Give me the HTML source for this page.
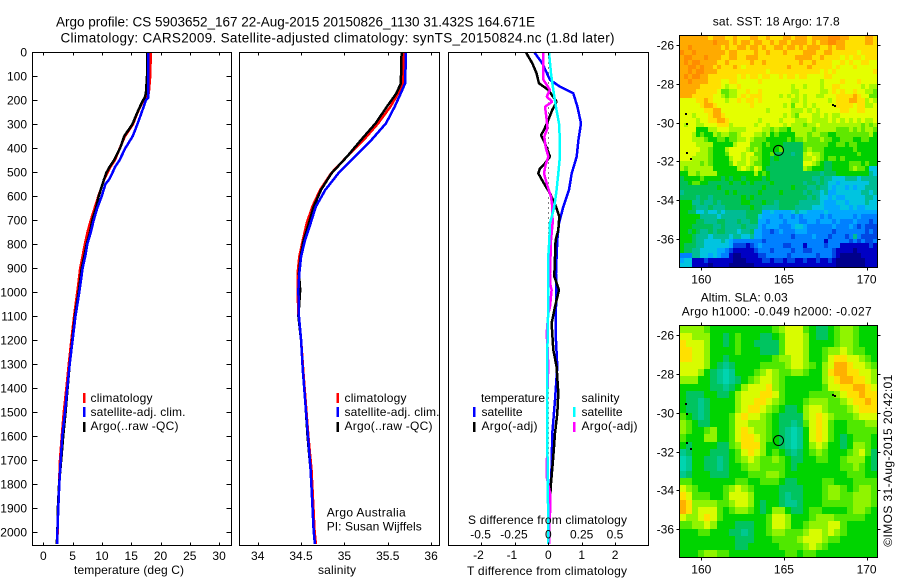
<!DOCTYPE html>
<html lang="en">
<head>
<meta charset="utf-8">
<title>Argo profile CS 5903652_167</title>
<style>
html,body{margin:0;padding:0;background:#fff;}
svg{display:block;position:absolute;left:0;top:0;}
text{font-family:"Liberation Sans",sans-serif;font-size:12px;fill:#000;}
.ttl{font-size:13.5px;}
</style>
</head>
<body>
<svg id="fig" xmlns="http://www.w3.org/2000/svg" width="900" height="580" viewBox="0 0 900 580">
<rect width="900" height="580" fill="#fff"/>
<text class="ttl" x="56" y="26.5" textLength="479">Argo profile: CS 5903652_167 22-Aug-2015 20150826_1130 31.432S 164.671E</text>
<text class="ttl" x="60.5" y="42.5" textLength="554">Climatology: CARS2009. Satellite-adjusted climatology: synTS_20150824.nc (1.8d later)</text>
<g id="plots"></g>
<text x="74" y="574" textLength="110">temperature (deg C)</text>
<text x="318" y="574" textLength="38">salinity</text>
<text x="467" y="575" textLength="160">T difference from climatology</text>
<text x="468" y="524" textLength="159">S difference from climatology</text>

<g>
<rect x="83" y="393" width="2.5" height="10" fill="#f00"/>
<rect x="83" y="407" width="2.5" height="10" fill="#00f"/>
<rect x="83" y="422" width="2.5" height="10" fill="#000"/>
<text x="90.5" y="402" textLength="62">climatology</text>
<text x="90.5" y="416" textLength="95">satellite-adj. clim.</text>
<text x="90.5" y="430" textLength="88">Argo(..raw -QC)</text>
</g>
<g>
<rect x="336.5" y="393" width="2.5" height="10" fill="#f00"/>
<rect x="336.5" y="407" width="2.5" height="10" fill="#00f"/>
<rect x="336.5" y="422" width="2.5" height="10" fill="#000"/>
<text x="344.5" y="402" textLength="62">climatology</text>
<text x="344.5" y="416" textLength="95">satellite-adj. clim.</text>
<text x="344.5" y="430" textLength="88">Argo(..raw -QC)</text>
<text x="326.7" y="516.7" textLength="79">Argo Australia</text>
<text x="326.7" y="530.7" textLength="95">PI: Susan Wijffels</text>
</g>
<g>
<text x="481" y="402" textLength="64">temperature</text>
<text x="481.5" y="416" textLength="41">satellite</text>
<text x="481.5" y="430" textLength="56">Argo(-adj)</text>
<text x="581.5" y="402" textLength="38">salinity</text>
<text x="581.5" y="416" textLength="41">satellite</text>
<text x="581.5" y="430" textLength="56">Argo(-adj)</text>
<rect x="473" y="407" width="2.5" height="10" fill="#00f"/>
<rect x="473" y="422" width="2.5" height="10" fill="#000"/>
<rect x="573" y="407" width="2.5" height="10" fill="#0ff"/>
<rect x="573" y="422" width="2.5" height="10" fill="#f0f"/>
</g>

<text x="712.7" y="25.7" textLength="127">sat. SST: 18 Argo: 17.8</text>
<text x="700.7" y="301.7" textLength="87">Altim. SLA: 0.03</text>
<text x="681.7" y="315.7" textLength="190">Argo h1000: -0.049 h2000: -0.027</text>
<text transform="translate(892 546.7) rotate(-90)" textLength="172">©IMOS 31-Aug-2015 20:42:01</text>
</svg>
<script>
// ---- profile data ----
const depthTicks = [0,100,200,300,400,500,600,700,800,900,1000,1100,1200,1300,1400,1500,1600,1700,1800,1900,2000];
const tempTicks = [0,5,10,15,20,25,30];
const salTicks = [34,34.5,35,35.5,36];
const tDiffTicks = [-2,-1,0,1,2];
const sDiffTicks = [-0.5,-0.25,0,0.25,0.5];
const lonTicks = [160,165,170];
const latTicks = [-26,-28,-30,-32,-34,-36];

const tempDepths = [0,100,170,190,200,250,300,350,400,450,480,500,530,550,600,650,700,750,800,850,900,950,1000,1100,1200,1300,1400,1500,1600,1700,1800,1900,2000,2050];
const climTemp = [18.35,18.25,18.0,17.7,17.1,16.1,15.3,13.95,13.05,12.2,11.4,11,10.4,10.1,9.4,8.75,8.1,7.55,7.1,6.7,6.3,6.05,5.8,5.25,4.8,4.35,3.95,3.5,3.15,2.85,2.7,2.5,2.45,2.3];
const argoTemp = [17.7,17.7,17.5,17.3,17,16.05,15.2,13.8,13.1,12.07,11.26,10.8,10.35,10.1,9.45,9,8.36,7.97,7.4,7.0,6.55,6.3,6.04,5.4,4.95,4.5,4.15,3.8,3.4,3.05,2.7,2.5,2.4,2.3];
const satTemp = [17.9,17.9,17.9,17.9,17.5,16.8,16.05,15.25,14.0,13.0,12.2,11.85,11.25,10.6,9.97,9.2,8.6,8.1,7.5,7.17,6.7,6.43,6.15,5.5,5.0,4.5,4.1,3.7,3.25,2.97,2.73,2.56,2.4,2.35];

const salDepths = [0,130,171,227,296,366,435,505,574,644,713,783,852,922,991,1100,1200,1325,1464,1603,1742,1880,1992,2050];
const climSal = [35.69,35.67,35.62,35.53,35.39,35.22,35.03,34.845,34.72,34.63,34.565,34.52,34.48,34.46,34.46,34.47,34.5,34.525,34.555,34.585,34.62,34.64,34.655,34.67];
const argoSal = [35.66,35.65,35.6,35.49,35.36,35.19,35.03,34.85,34.73,34.645,34.59,34.53,34.495,34.475,34.49,34.47,34.5,34.52,34.55,34.575,34.61,34.63,34.645,34.66];
const satSal = [35.71,35.70,35.65,35.58,35.48,35.31,35.12,34.93,34.78,34.67,34.61,34.545,34.5,34.48,34.47,34.475,34.5,34.52,34.55,34.58,34.61,34.63,34.645,34.66];

const satDiffDepths = [0,46,115,143,171,227,296,366,435,505,574,644,713,783,852,922,1061,1172,1311,1450,1589,1728,1867,1992,2050];
const satTDiff = [-0.42,-0.18,0.05,0.35,0.75,0.87,0.98,0.9,0.85,0.7,0.62,0.45,0.32,0.27,0.25,0.23,0.23,0.22,0.27,0.2,0.12,0.1,0.05,0.03,0.02];
const argoTDepths = [0,46,88,129,157,206,240,282,324,345,380,435,463,484,505,547,588,644,685,741,783,852,935,991,1061,1130,1241,1311,1422,1506,1589,1686,1797,1992,2050];
const argoTDiff = [-0.67,-0.48,-0.35,-0.28,0,0.25,0.12,0,-0.13,-0.22,-0.1,0.05,-0.1,-0.25,-0.3,-0.13,0.05,0.23,0.33,0.3,0.22,0.2,0.18,0.32,0.2,0.1,0.15,0.25,0.3,0.27,0.2,0.15,0.08,0,0];
const argoSDepths = [0,115,157,185,206,227,282,317,352,394,435,470,505,547,602,644,713,783,922,963,991,1061,1089,1172,1241,1311,1450,1589,1770,1839,1922,1992,2050];
const argoSDiff = [-0.037,-0.037,0.0125,-0.012,0.03,-0.025,-0.012,-0.007,-0.03,-0.02,0,-0.02,-0.032,-0.012,0.02,0.03,0.032,0.02,0.0125,0.0125,0.025,0.0125,0,-0.012,-0.005,0,-0.01,-0.007,-0.012,0.0125,0.0125,0.005,0.005];
const satSDepths = [0,88,157,227,296,366,435,505,574,644,713,783,852,922,1061,1172,1450,1728,1992,2050];
const satSDiff = [0.005,0.02,0.0375,0.057,0.08,0.087,0.087,0.075,0.062,0.045,0.0125,0.0075,0,0,0,-0.005,-0.01,-0.005,0,0];

// ---- map data: colour-scale level per cell, north to south ----
const sstColors = ["#00008c","#0000c4","#0048e4","#0080ff","#00a8ff","#00c4e0","#00bc94","#00c058","#00d000","#60e800","#a8f800","#e4ff00","#ffe000","#ffaa00","#ff8c00"];
const slaColors = ["#00008c","#0000c4","#0048e4","#0080ff","#00a8ff","#00d4b0","#00c890","#00c460","#00d400","#50e800","#90f400","#d8fc00","#ffe000","#ffb000","#ff8c00"];
const landLons = [159,159.05,159.1,159.3,167.9,168];
const landLats = [-29.5,-30,-31.5,-31.8,-29.05,-29.1];
const argoLon = 164.671;
const argoLat = -31.432;
const sstGrid = [
[13,13,13,13,13,13,13,12,13,13,13,12,12,13,12,12,12,13,13,12,12,13,12,12,12,13,13,12,13,13,13,12,13,13,13,13,14,14,14,13,13,12,12,12,12,13,13,12],
[13,13,13,13,13,13,13,13,14,13,13,13,12,13,12,13,13,12,13,13,12,12,13,12,13,13,12,13,13,13,13,12,13,12,13,13,14,14,13,13,12,12,12,12,12,13,13,12],
[13,13,14,13,13,13,13,13,13,13,12,13,12,12,13,13,12,13,13,12,13,12,12,13,13,12,13,13,12,13,12,13,13,13,12,12,13,12,13,13,12,12,12,12,12,12,12,12],
[14,13,13,14,13,13,13,13,13,13,13,12,13,13,12,12,12,12,13,12,12,13,12,12,12,13,12,12,12,12,13,13,13,12,12,13,13,12,12,12,12,12,12,11,12,12,12,12],
[13,14,14,13,13,13,14,13,13,13,12,12,13,13,12,12,13,13,13,12,12,12,12,12,12,12,12,12,13,13,13,13,12,12,13,12,12,12,12,11,12,11,12,12,11,12,12,12],
[13,14,13,14,14,13,13,13,13,12,12,13,12,12,12,12,12,13,12,12,13,12,12,12,12,12,12,12,12,13,12,12,13,12,12,12,12,11,11,12,11,12,11,11,12,12,11,11],
[13,13,14,14,13,14,13,13,12,13,12,12,12,13,12,11,12,12,12,12,12,12,12,12,12,12,13,12,12,12,12,13,12,12,12,12,12,11,12,11,11,11,12,11,11,11,11,11],
[13,13,14,13,14,14,13,13,13,12,12,12,12,12,12,12,12,12,12,12,12,11,12,12,12,12,12,12,12,12,12,12,12,12,11,12,11,12,11,11,11,11,11,11,11,11,11,12],
[13,14,13,14,14,13,13,12,12,12,12,12,12,12,11,12,11,12,12,11,12,12,11,11,12,11,12,12,11,12,12,11,11,11,11,12,12,11,11,11,11,11,11,11,11,11,11,11],
[13,13,14,13,13,13,13,12,12,12,11,11,12,12,11,11,11,11,11,12,11,11,11,11,11,11,11,11,11,11,11,11,11,11,10,11,11,11,11,12,11,11,11,12,11,11,11,11],
[13,13,13,13,13,12,12,12,12,12,11,10,11,11,12,11,11,11,11,11,11,11,11,11,11,11,11,10,11,11,10,11,11,11,10,11,11,12,12,11,11,11,11,11,10,11,10,10],
[13,13,13,13,12,12,12,12,12,11,9,9,10,10,11,11,12,11,11,12,11,11,11,11,11,11,11,10,10,11,11,11,11,11,10,10,11,12,11,12,11,11,12,11,11,10,10,9],
[13,13,13,12,12,12,12,12,11,11,10,9,10,10,11,12,11,12,12,12,11,11,11,11,10,11,10,11,10,11,10,11,11,10,10,11,11,11,12,12,12,12,13,12,11,11,9,9],
[11,11,11,11,12,12,13,12,11,11,11,10,11,11,12,11,12,12,11,12,11,11,11,11,11,11,11,10,10,11,10,11,11,11,11,11,10,11,12,12,12,13,13,12,12,10,11,10],
[11,11,11,11,11,12,13,13,12,11,11,11,11,11,11,11,11,12,11,11,11,11,11,11,11,10,11,9,11,11,10,11,10,11,11,11,11,11,12,12,12,12,11,12,12,10,10,11],
[11,11,11,11,11,11,12,12,13,13,11,11,11,11,11,11,11,11,11,11,11,10,11,11,11,11,11,10,10,10,11,10,11,10,11,11,11,11,11,12,12,11,11,12,12,11,11,11],
[11,11,11,10,11,11,11,12,13,13,12,11,11,11,11,11,11,11,11,11,11,11,11,11,11,10,11,10,9,11,11,11,10,10,11,10,11,10,10,11,11,11,11,11,11,11,11,11],
[11,11,11,11,10,11,11,12,12,13,13,12,11,11,11,11,11,11,11,10,11,11,11,11,10,11,11,11,10,10,10,11,10,10,10,10,11,10,11,10,11,10,11,10,11,10,10,11],
[11,10,11,11,10,10,11,11,11,12,12,12,10,11,11,11,11,11,10,11,11,10,11,11,11,10,11,10,10,10,9,10,10,11,10,10,10,10,10,10,10,10,10,10,9,10,9,10],
[11,11,11,11,8,8,8,10,10,11,11,11,10,10,10,10,11,11,11,11,10,10,9,10,9,9,8,10,10,10,10,10,9,10,10,10,10,10,9,9,9,10,9,10,9,10,10,9],
[11,11,11,10,8,9,8,8,10,9,10,10,9,9,10,11,11,11,10,10,9,10,8,9,8,8,8,8,10,10,10,9,10,10,9,9,8,8,9,9,9,9,9,9,9,9,10,8],
[11,11,11,10,10,10,9,8,8,9,9,8,9,9,10,10,11,10,9,9,9,8,8,8,8,8,9,8,9,9,10,9,9,9,10,9,9,8,8,9,9,9,8,8,9,9,8,8],
[11,11,11,11,10,10,10,10,8,8,8,8,8,10,11,11,11,9,9,9,8,9,8,8,8,7,7,7,7,7,9,9,9,9,9,9,8,8,9,9,8,9,9,8,8,8,8,8],
[11,11,11,11,11,10,10,9,8,8,8,10,11,11,11,11,10,9,10,9,8,8,8,8,9,7,7,7,7,7,9,10,9,9,9,8,8,8,8,8,8,8,9,8,8,8,8,8],
[11,11,11,11,10,10,10,9,8,8,8,9,11,11,11,10,11,11,9,9,8,8,9,7,7,7,7,6,7,7,10,11,10,10,9,8,8,8,8,8,8,8,8,9,8,8,8,8],
[11,11,11,10,10,10,10,9,8,8,8,8,10,11,11,10,11,10,10,9,8,8,7,8,7,7,7,7,7,7,10,10,11,10,9,8,9,9,8,9,8,8,8,8,8,8,8,8],
[10,10,10,10,10,9,10,9,8,8,8,8,9,11,10,10,11,10,9,9,8,8,7,7,7,7,7,7,7,7,11,11,10,9,8,7,7,8,8,8,8,9,9,9,8,9,8,8],
[10,9,10,10,10,10,10,10,8,8,8,8,8,8,10,11,10,9,11,10,8,7,7,7,7,7,7,7,7,7,10,9,8,8,8,7,7,8,8,8,8,9,10,9,9,8,5,5],
[8,8,10,10,9,10,10,10,10,8,8,8,8,8,8,8,8,8,10,8,9,8,7,7,7,7,7,7,7,7,7,7,7,7,6,7,7,7,8,8,8,8,8,8,8,8,6,5],
[7,8,8,8,8,9,8,8,8,8,7,8,7,8,8,7,8,8,8,8,7,8,7,7,7,7,7,7,7,7,7,7,6,6,7,6,6,5,5,5,6,6,6,5,6,6,6,6],
[7,7,8,9,9,8,8,7,7,7,7,7,8,7,7,8,7,8,7,7,7,7,8,7,7,7,7,7,7,7,6,7,7,6,7,6,5,5,4,5,5,5,5,5,5,5,6,6],
[7,7,7,7,7,7,7,7,7,8,7,7,7,7,7,7,7,7,7,7,8,7,7,7,7,7,7,8,7,7,7,6,6,7,6,6,5,4,5,5,4,5,4,5,5,6,6,6],
[6,7,7,7,7,7,7,7,7,7,7,8,7,8,7,7,7,7,7,8,7,7,7,7,8,7,7,7,7,7,6,7,6,6,5,6,4,4,5,5,5,5,5,5,6,6,5,6],
[7,7,7,7,6,7,7,6,7,7,7,7,7,7,7,8,7,8,7,7,7,7,7,7,7,7,7,7,7,7,7,6,7,6,5,5,4,5,4,4,5,5,5,5,5,6,6,5],
[8,8,8,6,6,7,6,6,7,6,7,7,7,7,7,8,8,7,7,7,8,7,7,6,7,7,7,7,7,6,6,6,6,6,5,4,4,4,5,5,4,5,5,5,5,6,5,5],
[8,8,8,7,6,6,6,7,6,6,6,7,7,7,7,7,7,8,7,7,6,6,6,6,7,7,7,7,6,6,6,6,5,5,5,4,4,4,4,5,5,4,5,4,4,5,5,5],
[8,8,7,7,5,5,6,5,5,6,5,6,6,6,6,6,7,7,7,7,4,4,5,4,4,4,4,5,6,5,5,4,4,4,4,5,4,4,4,4,4,4,4,4,4,4,4,4],
[8,8,8,8,8,6,6,6,6,5,6,6,6,6,6,6,7,7,7,5,4,4,4,4,3,4,4,3,4,3,4,4,4,4,3,4,3,4,4,4,4,4,3,4,3,3,3,3],
[8,8,8,8,7,7,6,6,6,7,7,6,6,6,7,6,6,7,7,4,4,3,4,4,4,3,4,4,4,3,3,4,4,3,4,4,4,3,4,3,3,3,4,3,3,3,2,3],
[8,8,8,7,7,7,7,7,6,6,7,6,6,6,6,7,6,6,6,4,3,4,4,4,3,3,3,4,5,5,4,3,3,3,3,3,3,4,3,3,3,4,3,2,3,2,2,2],
[8,8,7,8,7,6,6,7,6,7,7,6,6,6,5,6,6,7,4,4,3,3,2,3,4,3,3,3,4,4,4,3,3,3,3,3,3,2,3,3,3,3,3,3,3,2,3,2],
[8,8,8,7,6,6,6,5,6,6,6,6,5,6,6,5,5,6,4,4,3,3,3,3,3,3,3,2,3,3,3,3,4,3,3,3,2,3,3,3,2,3,6,3,2,2,2,2],
[8,8,8,7,6,6,5,5,5,5,6,5,4,3,3,3,3,3,3,3,2,3,3,3,3,3,3,3,3,3,3,3,3,3,3,1,3,3,3,3,3,2,3,2,3,2,2,3],
[8,7,7,7,6,6,5,5,5,5,5,5,4,2,2,2,1,2,3,4,3,3,3,3,3,2,2,3,3,3,1,3,3,3,3,2,3,3,3,1,1,1,1,1,1,1,2,1],
[8,7,7,6,6,5,5,5,5,4,4,3,2,1,1,1,1,1,2,3,3,3,2,3,3,3,3,2,3,3,2,2,3,3,3,3,3,2,1,1,1,1,0,1,1,1,1,1],
[3,3,3,6,6,5,5,4,5,4,3,3,1,0,0,1,1,1,1,2,2,3,3,3,3,3,2,3,3,3,3,3,3,2,3,3,3,2,1,0,0,0,0,0,1,1,1,1],
[4,5,5,1,1,1,2,1,1,1,1,1,1,0,0,0,1,1,1,1,2,2,1,2,2,1,2,2,1,1,2,1,1,2,1,1,2,1,0,0,0,0,0,0,0,1,1,1],
[5,5,5,1,1,1,1,0,1,1,1,1,0,0,0,0,0,0,1,1,1,1,1,1,1,1,1,1,1,1,1,1,1,1,1,1,1,1,0,0,0,0,0,0,0,1,1,1]
];
const slaGrid = [
[10,10,10,10,9,8,8,8,8,8,8,8,8,8,8,9,10,11,11,11,9,8,7,7,8,9,10,10,9,8,8,8],
[11,11,10,10,10,8,8,7,8,9,8,8,8,7,7,8,9,11,11,11,10,8,7,7,8,9,10,10,9,8,8,8],
[12,11,11,11,10,8,8,7,8,9,8,8,7,7,7,7,9,11,11,11,10,8,8,8,8,9,10,10,9,8,8,8],
[12,12,11,11,10,8,8,8,8,9,8,8,8,7,7,7,9,11,11,11,10,8,8,9,10,10,11,10,9,9,8,8],
[12,12,11,11,10,8,8,7,8,8,8,8,8,8,8,9,10,10,11,11,10,8,8,9,11,12,12,11,11,10,9,8],
[11,11,11,11,10,8,7,6,7,8,8,8,8,9,9,9,9,10,11,11,10,9,8,10,11,13,13,12,11,11,10,9],
[11,11,11,10,8,7,6,5,6,8,8,8,9,10,11,10,9,9,10,10,9,8,8,10,12,13,13,12,12,11,11,10],
[10,10,10,8,8,7,6,5,6,7,8,9,10,11,11,10,9,8,8,8,8,8,8,10,11,12,13,13,12,12,11,10],
[8,8,8,8,8,7,7,6,7,8,10,11,11,11,12,10,9,8,8,8,8,8,8,9,11,11,12,12,13,13,12,11],
[8,7,7,7,8,8,7,7,8,10,11,11,11,12,12,11,9,8,8,8,8,9,9,9,9,10,11,12,12,13,12,12],
[8,7,7,6,7,8,8,8,8,10,11,11,12,12,11,10,9,8,8,8,9,10,10,10,9,9,10,11,12,12,13,12],
[8,7,7,6,7,8,8,8,8,10,11,12,12,11,10,9,8,7,7,8,10,11,11,10,9,9,9,10,11,12,12,12],
[9,8,7,6,7,8,8,8,9,11,12,11,11,10,9,8,7,7,7,7,10,11,12,11,10,9,9,9,10,11,11,11],
[10,9,8,7,7,8,8,8,9,11,11,10,10,10,9,8,7,7,6,7,9,11,12,11,9,8,8,9,9,9,10,10],
[10,9,8,8,9,10,8,8,9,11,12,11,10,10,9,8,7,6,5,6,8,11,12,11,9,8,8,9,9,9,9,9],
[9,8,8,8,10,10,8,8,9,11,12,12,11,10,9,8,7,6,5,6,8,11,12,11,9,8,7,8,9,9,9,8],
[8,7,8,8,8,8,7,7,9,10,12,12,12,10,8,8,7,6,5,6,8,10,11,10,8,8,7,8,10,10,9,8],
[6,7,8,8,8,7,7,7,8,9,11,12,11,10,8,9,8,7,6,7,8,9,10,9,8,8,8,9,10,11,9,7],
[5,6,8,8,7,7,6,7,8,9,10,11,10,9,9,10,9,8,7,7,8,8,9,9,8,8,9,10,10,10,8,7],
[5,6,8,8,7,7,6,7,8,8,9,10,10,9,9,9,9,8,7,8,8,8,8,8,8,8,9,9,10,9,8,7],
[6,7,8,8,8,7,7,7,8,8,8,9,9,9,10,10,9,8,8,8,8,8,8,8,8,8,8,9,9,9,8,8],
[9,9,8,8,8,8,8,8,8,9,9,8,8,9,9,9,8,7,7,8,8,8,8,9,9,8,8,8,9,9,9,9],
[11,10,9,8,8,8,8,9,10,11,10,9,8,8,8,8,7,7,7,7,8,8,8,9,10,10,9,8,9,10,10,9],
[12,11,9,9,9,8,8,9,11,11,11,10,8,8,8,8,7,6,7,7,8,8,8,9,10,10,9,9,10,10,10,9],
[13,12,10,10,10,10,9,9,10,11,11,10,8,7,8,8,7,6,6,7,8,8,8,9,9,9,9,9,10,10,10,9],
[13,12,10,11,11,11,9,8,9,10,10,9,8,7,8,10,10,8,7,7,8,9,9,8,8,8,8,9,10,10,9,8],
[11,10,10,11,12,11,9,8,8,8,8,8,8,8,9,11,11,10,8,8,8,9,10,10,10,9,9,9,9,9,8,8],
[9,9,10,10,11,10,8,8,8,7,7,7,8,8,9,11,11,10,8,8,9,10,10,10,11,11,9,8,8,8,8,8],
[8,8,8,9,9,8,8,8,7,7,6,7,8,8,9,10,10,9,9,9,10,11,11,10,11,10,9,8,8,8,8,8],
[8,8,8,8,8,8,8,8,8,7,7,7,8,8,8,9,9,9,9,10,11,11,11,10,9,9,8,8,8,8,8,8],
[8,8,8,8,8,8,8,8,8,7,7,8,8,8,8,8,9,9,9,9,10,11,10,9,8,8,8,8,8,8,8,8],
[8,8,8,9,10,10,9,9,8,8,8,8,8,8,8,8,8,9,9,8,9,9,8,8,8,8,8,8,8,8,8,8]
];

// ---- axis functions ----
const NS = 'http://www.w3.org/2000/svg';
const plots = document.getElementById('plots');
const yDepth = d => 52.3 + d * 0.2398;
const xTemp = t => 43.3 + t * 5.86;
const xSal = s => 257.7 + (s - 34) * 86.7;
const xTDiff = t => 548.3 + t * 33.4;
const xSDiff = s => 548.3 + s * 133.4;
const xLon = lon => 701.3 + (lon - 160) * 16.53;
const yLatSst = lat => 45 + (-26 - lat) * 19.4;
const yLatSla = lat => 335 + (-26 - lat) * 19.43;

function mk(tag, attrs, parent) {
  const el = document.createElementNS(NS, tag);
  for (const k in attrs) el.setAttribute(k, attrs[k]);
  (parent || plots).appendChild(el);
  return el;
}
function drawLine(parent, depths, values, xf, color, name, width) {
  const pts = depths.map((d, i) => xf(values[i]).toFixed(1) + ',' + yDepth(d).toFixed(1)).join(' ');
  const el = mk('polyline', {points: pts, fill: 'none', stroke: color, 'stroke-width': width || 2.5, 'shape-rendering': 'crispEdges', 'stroke-linejoin': 'bevel'}, parent);
  
  
}
function tickMark(parent, x1, y1, x2, y2) {
  const el = mk('line', {x1: x1, y1: y1, x2: x2, y2: y2, stroke: '#000', 'stroke-width': 1, 'shape-rendering': 'crispEdges'}, parent);
  
  
}
function label(parent, x, y, txt, anchor) {
  const el = mk('text', {x: x, y: y, 'text-anchor': anchor || 'middle'}, parent);
  el.textContent = txt;
  
  
}
function frame(parent, l, t, r, b) {
  const el = mk('rect', {x: l, y: t, width: r - l, height: b - t, fill: 'none', stroke: '#000', 'stroke-width': 1, 'shape-rendering': 'crispEdges'}, parent);
  
  
}
function panel(name) {
  const g = mk('g', {});
  
  
  return g;
}
const TOP = 52.5, BOT = 545.5;

// ---- temperature panel ----
const p1 = panel('temperature-panel');
drawLine(p1, tempDepths, climTemp, xTemp, '#f00', 'climatology-temperature-line');
drawLine(p1, tempDepths, argoTemp, xTemp, '#000', 'argo-temperature-line');
drawLine(p1, tempDepths, satTemp, xTemp, '#00f', 'satellite-temperature-line');
frame(p1, 32.5, TOP, 231.5, BOT);
depthTicks.forEach(d => {
  const y = Math.round(yDepth(d)) + 0.5;
  tickMark(p1, 32.5, y, 37.5, y);
  tickMark(p1, 226.5, y, 231.5, y);
  label(p1, 27, y + 4, String(d), 'end');
});
tempTicks.forEach(t => {
  const x = Math.round(xTemp(t)) + 0.5;
  tickMark(p1, x, TOP, x, TOP + 3);
  tickMark(p1, x, BOT - 3, x, BOT);
  label(p1, xTemp(t), 560, String(t));
});

// ---- salinity panel ----
const p2 = panel('salinity-panel');
drawLine(p2, salDepths, climSal, xSal, '#f00', 'climatology-salinity-line');
drawLine(p2, salDepths, argoSal, xSal, '#000', 'argo-salinity-line');
drawLine(p2, salDepths, satSal, xSal, '#00f', 'satellite-salinity-line');
frame(p2, 239.5, TOP, 439.5, BOT);
salTicks.forEach(s => {
  const x = Math.round(xSal(s)) + 0.5;
  tickMark(p2, x, TOP, x, TOP + 3);
  tickMark(p2, x, BOT - 3, x, BOT);
  label(p2, xSal(s), 560, String(s));
});

// ---- difference panel ----
const p3 = panel('difference-panel');
const zero = mk('line', {x1: 548.5, y1: 52.5, x2: 548.5, y2: 545.5, stroke: '#000', 'stroke-width': 1, 'stroke-dasharray': '1 4', 'shape-rendering': 'crispEdges'}, p3);


drawLine(p3, satDiffDepths, satTDiff, xTDiff, '#00f', 'satellite-t-difference-line');
drawLine(p3, argoTDepths, argoTDiff, xTDiff, '#000', 'argo-t-difference-line');
drawLine(p3, argoSDepths, argoSDiff, xSDiff, '#f0f', 'argo-s-difference-line');
drawLine(p3, satSDepths, satSDiff, xSDiff, '#0ff', 'satellite-s-difference-line');
frame(p3, 448.5, TOP, 648.5, BOT);
tDiffTicks.forEach(t => {
  const x = Math.round(xTDiff(t)) + 0.5;
  tickMark(p3, x, TOP, x, TOP + 3);
  tickMark(p3, x, BOT - 3, x, BOT);
  label(p3, xTDiff(t) - (t < 0 ? 3 : 0), 559, String(t));
});
sDiffTicks.forEach(s => {
  label(p3, xSDiff(s) - (s < 0 ? 1 : 0), 538.7, String(s));
});

// ---- maps ----
function drawMap(name, grid, palette, yLat, top, bottom) {
  const g = panel(name);
  const left = 679.5, right = 877.5;
  const rows = grid.length, cols = grid[0].length;
  const w = (right - left) / cols, h = (bottom - top) / rows;
  grid.forEach((row, r) => row.forEach((v, c) => {
    const x0 = Math.round(left + c * w), x1 = Math.round(left + (c + 1) * w);
    const y0 = Math.round(top + r * h), y1 = Math.round(top + (r + 1) * h);
    const cell = mk('rect', {x: x0, y: y0, width: x1 - x0, height: y1 - y0, fill: palette[v], 'shape-rendering': 'crispEdges'}, g);
    
    
  }));
  landLons.forEach((lon, i) => {
    const land = mk('rect', {x: Math.round(xLon(lon)), y: Math.round(yLat(landLats[i])), width: 2, height: 2, fill: '#000', 'shape-rendering': 'crispEdges'}, g);
    
    
  });
  const ring = mk('circle', {cx: xLon(argoLon), cy: yLat(argoLat), r: 5, fill: 'none', stroke: '#000', 'stroke-width': 1}, g);
  
  
  frame(g, left, top, right, bottom);
  lonTicks.forEach(lon => {
    const x = Math.round(xLon(lon)) + 0.5;
    tickMark(g, x, top - 3, x, top);
    tickMark(g, x, bottom, x, bottom + 3);
    label(g, xLon(lon), bottom + 16, String(lon));
  });
  latTicks.forEach(lat => {
    const y = Math.round(yLat(lat)) + 0.5;
    tickMark(g, left - 3, y, left, y);
    tickMark(g, right, y, right + 3, y);
    label(g, 674, y + 4, String(lat), 'end');
  });
}
drawMap('sst-map', sstGrid, sstColors, yLatSst, 35.5, 267.5);
drawMap('sla-map', slaGrid, slaColors, yLatSla, 325.5, 557.5);
</script>
</body>
</html>
